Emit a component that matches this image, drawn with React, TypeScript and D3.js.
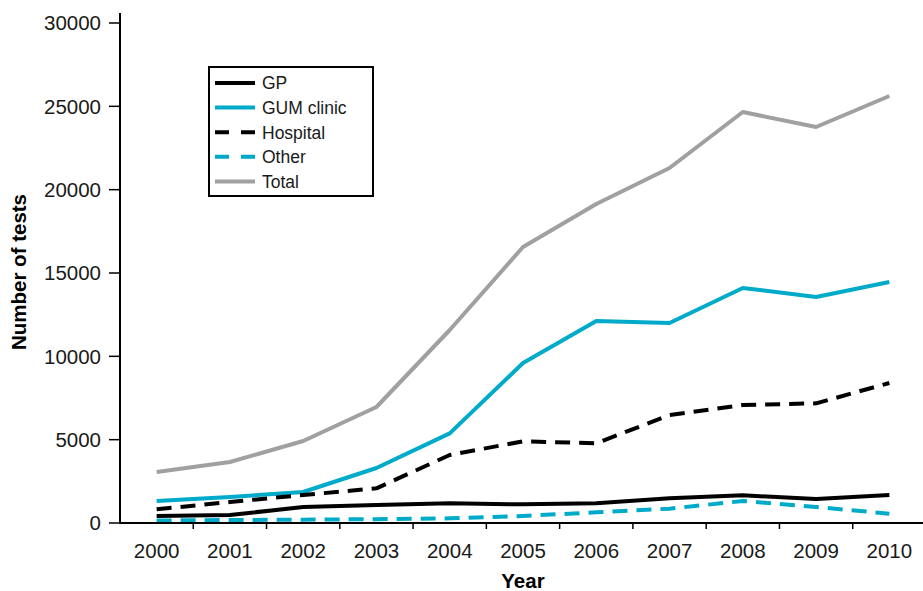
import React, { useRef, useEffect } from 'react';
import * as d3 from 'd3';

const years = ['2000', '2001', '2002', '2003', '2004', '2005', '2006', '2007', '2008', '2009', '2010'];
const gp = [420, 480, 960, 1080, 1180, 1120, 1180, 1480, 1660, 1440, 1680];
const gumClinic = [1320, 1560, 1860, 3300, 5380, 9600, 12120, 12000, 14100, 13560, 14460];
const hospital = [820, 1260, 1680, 2080, 4080, 4900, 4780, 6480, 7080, 7180, 8400];
const other = [150, 180, 200, 230, 280, 420, 640, 860, 1320, 960, 560];
const total = [3060, 3660, 4920, 6960, 11580, 16560, 19140, 21300, 24660, 23760, 25620];
const yTicks = [0, 5000, 10000, 15000, 20000, 25000, 30000];

const series = [
  { name: 'Total', values: total, color: '#a0a0a0', dash: '' },
  { name: 'GUM clinic', values: gumClinic, color: '#00aac9', dash: '' },
  { name: 'Hospital', values: hospital, color: '#000000', dash: '15,9' },
  { name: 'GP', values: gp, color: '#000000', dash: '' },
  { name: 'Other', values: other, color: '#00aac9', dash: '15,9' },
];
const legendOrder = ['GP', 'GUM clinic', 'Hospital', 'Other', 'Total'];

const W = 923;
const H = 591;
const FONT = "'Liberation Sans', Arial, sans-serif";

const App: React.FC = () => {
  const svgRef = useRef<SVGSVGElement>(null);

  useEffect(() => {
    if (!svgRef.current) return;
    const svg = d3.select(svgRef.current);
    svg.selectAll('*').remove();

    const left = 120;
    const bottom = 523;

    const x = d3.scaleBand().domain(years).range([left, 926]);
    const y = d3.scaleLinear().domain([0, 30000]).range([bottom, 23]);
    const cx = (i: number) => (x(years[i]) || 0) + x.bandwidth() / 2;

    // lines
    const line = d3
      .line<number>()
      .x((_, i) => cx(i))
      .y((d) => y(d));

    series.forEach((s) => {
      svg
        .append('path')
        .attr('d', line(s.values) || '')
        .attr('fill', 'none')
        .attr('stroke', s.color)
        .attr('stroke-width', 4)
        .attr('stroke-dasharray', s.dash || null)
        .attr('stroke-linejoin', 'round');
    });

    // y axis
    svg
      .append('line')
      .attr('x1', left)
      .attr('x2', left)
      .attr('y1', 13)
      .attr('y2', bottom + 1)
      .attr('stroke', '#000')
      .attr('stroke-width', 2);

    yTicks.forEach((t) => {
      svg
        .append('line')
        .attr('x1', left - 11)
        .attr('x2', left)
        .attr('y1', y(t))
        .attr('y2', y(t))
        .attr('stroke', '#000')
        .attr('stroke-width', 1.5);
      svg
        .append('text')
        .attr('x', left - 19)
        .attr('y', y(t))
        .attr('dy', '0.36em')
        .attr('text-anchor', 'end')
        .attr('font-family', FONT)
        .attr('font-size', 20.5)
        .attr('fill', '#1a1a1a')
        .text(String(t));
    });

    // x axis
    svg
      .append('line')
      .attr('x1', left - 1)
      .attr('x2', W)
      .attr('y1', bottom)
      .attr('y2', bottom)
      .attr('stroke', '#000')
      .attr('stroke-width', 2);

    years.forEach((yr, i) => {
      const bx = x(yr) || 0;
      if (i > 0) {
        svg
          .append('line')
          .attr('x1', bx)
          .attr('x2', bx)
          .attr('y1', bottom)
          .attr('y2', bottom + 6)
          .attr('stroke', '#000')
          .attr('stroke-width', 1.5);
      }
      svg
        .append('text')
        .attr('x', cx(i))
        .attr('y', 558)
        .attr('text-anchor', 'middle')
        .attr('font-family', FONT)
        .attr('font-size', 20.5)
        .attr('fill', '#1a1a1a')
        .text(yr);
    });

    // axis titles
    svg
      .append('text')
      .attr('x', 523)
      .attr('y', 588)
      .attr('text-anchor', 'middle')
      .attr('font-family', FONT)
      .attr('font-size', 20.5)
      .attr('font-weight', 'bold')
      .text('Year');

    svg
      .append('text')
      .attr('transform', 'translate(26,272) rotate(-90)')
      .attr('text-anchor', 'middle')
      .attr('font-family', FONT)
      .attr('font-size', 20.5)
      .attr('font-weight', 'bold')
      .text('Number of tests');

    // legend
    const lg = svg.append('g');
    lg.append('rect')
      .attr('x', 209)
      .attr('y', 67)
      .attr('width', 164)
      .attr('height', 129)
      .attr('fill', '#fff')
      .attr('stroke', '#000')
      .attr('stroke-width', 2);

    legendOrder.forEach((name, i) => {
      const s = series.find((d) => d.name === name)!;
      const ly = 83 + i * 24.6;
      lg.append('line')
        .attr('x1', 215)
        .attr('x2', 255)
        .attr('y1', ly)
        .attr('y2', ly)
        .attr('stroke', s.color)
        .attr('stroke-width', 4)
        .attr('stroke-dasharray', s.dash ? '14,12' : null);
      lg.append('text')
        .attr('x', 262)
        .attr('y', ly)
        .attr('dy', '0.36em')
        .attr('font-family', FONT)
        .attr('font-size', 17.5)
        .attr('fill', '#1a1a1a')
        .text(name);
    });
  }, []);

  return (
    <svg
      ref={svgRef}
      width={W}
      height={H}
      style={{ position: 'absolute', left: 0, top: 0, background: '#fff' }}
    />
  );
};

export default App;
